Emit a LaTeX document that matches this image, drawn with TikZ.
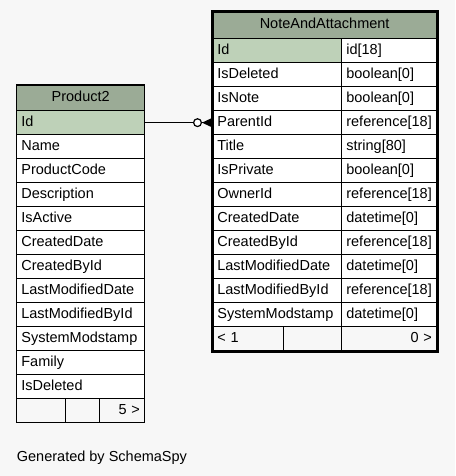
\documentclass[tikz,border=0pt]{standalone}
\usepackage{fontspec}
\setmainfont{Liberation Sans}
\usetikzlibrary{arrows.meta}
\definecolor{bgcol}{HTML}{F7F7F7}
\definecolor{headcol}{HTML}{9BAB96}
\definecolor{pkcol}{HTML}{BED1B8}
\begin{document}
\begin{tikzpicture}[x=1pt,y=-1pt,
    font=\fontsize{14.5}{17}\selectfont,
    cell/.style={draw, line width=1.3pt, fill=white, anchor=north west,
      inner xsep=4.7pt, inner ysep=0pt, minimum height=24pt,
      text height=10.5pt, text depth=3pt, align=left, text width=#1},
    head/.style={cell=#1, fill=headcol, align=center, minimum height=25.5pt},
    pk/.style={fill=pkcol},
    foot/.style={fill=bgcol}]
  \path[use as bounding box, fill=bgcol] (0,0) rectangle (455,476);
  % Product2
  \node[head=118.6pt] (p0) at (16,84.5) {Product2};
  \node[cell=118.6pt, pk] (p1) at (16,110) {Id};
  \node[cell=118.6pt] (p2) at (16,134) {Name};
  \node[cell=118.6pt] (p3) at (16,158) {ProductCode};
  \node[cell=118.6pt] (p4) at (16,182) {Description};
  \node[cell=118.6pt] (p5) at (16,206) {IsActive};
  \node[cell=118.6pt] (p6) at (16,230) {CreatedDate};
  \node[cell=118.6pt] (p7) at (16,254) {CreatedById};
  \node[cell=118.6pt] (p8) at (16,278) {LastModifiedDate};
  \node[cell=118.6pt] (p9) at (16,302) {LastModifiedById};
  \node[cell=118.6pt] (p10) at (16,326) {SystemModstamp};
  \node[cell=118.6pt] (p11) at (16,350) {Family};
  \node[cell=118.6pt] (p12) at (16,374) {IsDeleted};
  \node[cell=39.6pt, foot] (p13) at (16,398) {};
  \node[cell=24.6pt, foot] (p13m) at (65,398) {};
  \node[cell=35.6pt, foot, align=right] (p13t) at (99,398) {5 >};
  % NoteAndAttachment
  \node[head=214.6pt, minimum height=26pt, text height=9pt] (n0) at (212,12) {NoteAndAttachment};
  \node[cell=119.6pt, pk] (n1) at (212,38) {Id};
  \node[cell=85.6pt] (n1t) at (341,38) {id[18]};
  \node[cell=119.6pt] (n2) at (212,62) {IsDeleted};
  \node[cell=85.6pt] (n2t) at (341,62) {boolean[0]};
  \node[cell=119.6pt] (n3) at (212,86) {IsNote};
  \node[cell=85.6pt] (n3t) at (341,86) {boolean[0]};
  \node[cell=119.6pt] (n4) at (212,110) {ParentId};
  \node[cell=85.6pt] (n4t) at (341,110) {reference[18]};
  \node[cell=119.6pt] (n5) at (212,134) {Title};
  \node[cell=85.6pt] (n5t) at (341,134) {string[80]};
  \node[cell=119.6pt] (n6) at (212,158) {IsPrivate};
  \node[cell=85.6pt] (n6t) at (341,158) {boolean[0]};
  \node[cell=119.6pt] (n7) at (212,182) {OwnerId};
  \node[cell=85.6pt] (n7t) at (341,182) {reference[18]};
  \node[cell=119.6pt] (n8) at (212,206) {CreatedDate};
  \node[cell=85.6pt] (n8t) at (341,206) {datetime[0]};
  \node[cell=119.6pt] (n9) at (212,230) {CreatedById};
  \node[cell=85.6pt] (n9t) at (341,230) {reference[18]};
  \node[cell=119.6pt] (n10) at (212,254) {LastModifiedDate};
  \node[cell=85.6pt] (n10t) at (341,254) {datetime[0]};
  \node[cell=119.6pt] (n11) at (212,278) {LastModifiedById};
  \node[cell=85.6pt] (n11t) at (341,278) {reference[18]};
  \node[cell=119.6pt] (n12) at (212,302) {SystemModstamp};
  \node[cell=85.6pt] (n12t) at (341,302) {datetime[0]};
  \node[cell=61.6pt, foot] (n13) at (212,326) {< 1};
  \node[cell=48.6pt, foot] (n13m) at (283,326) {};
  \node[cell=85.6pt, foot, align=right] (n13t) at (341,326) {0 >};
  \draw[line width=3pt] (n0.north west) rectangle (n13t.south east);
  % relationship
  \draw[line width=1.2pt, -{Circle[open, fill=white, length=9pt, width=9pt] Triangle[reversed, length=10pt, width=9pt]}]
    (p1.east) -- (n4.west);
  \node[anchor=base west, inner sep=0pt] (gen) at (16.7,461) {Generated by SchemaSpy};
\end{tikzpicture}
\end{document}
